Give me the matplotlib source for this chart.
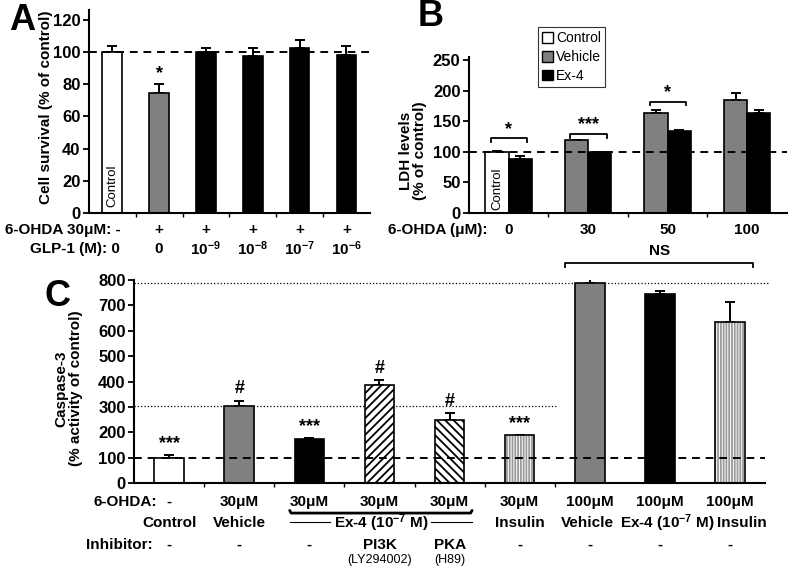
import matplotlib
matplotlib.use('Agg')
import matplotlib.pyplot as plt
from matplotlib.patches import Patch
import matplotlib.transforms as mtrans

plt.rcParams['font.family'] = ['Liberation Sans', 'DejaVu Sans']
plt.rcParams['font.weight'] = 'bold'
plt.rcParams['axes.labelweight'] = 'bold'
plt.rcParams['mathtext.fontset'] = 'custom'
plt.rcParams['mathtext.rm'] = 'Liberation Sans'
plt.rcParams['mathtext.bf'] = 'Liberation Sans:bold'
plt.rcParams['mathtext.default'] = 'bf'
plt.rcParams['hatch.linewidth'] = 1.3

# ---- data ----
# panel A: cell survival
a_ohda = ['-', '+', '+', '+', '+', '+']
a_glp = ['0', '0', '$10^{-9}$', '$10^{-8}$', '$10^{-7}$', '$10^{-6}$']
a_vals = [100, 74.5, 100, 97.5, 102.4, 98.3]
a_err = [3.6, 5.6, 2.5, 4.8, 5.2, 5.5]
a_colors = ['white', '#808080', 'black', 'black', 'black', 'black']
a_marks = ['', '*', '', '', '', '']

# panel B: LDH levels
b_doses = ['0', '30', '50', '100']
b_first = [100, 119, 163, 185]       # control (0) / vehicle
b_first_err = [2, 1, 6, 11]
b_ex4 = [89, 99, 134, 163]
b_ex4_err = [4, 1, 2, 5]
b_sig = {0: ('*', 122), 1: ('***', 129), 2: ('*', 182)}

# panel C: caspase-3
c_ohda = ['-', '30\u03bcM', '30\u03bcM', '30\u03bcM', '30\u03bcM', '30\u03bcM',
          '100\u03bcM', '100\u03bcM', '100\u03bcM']
c_treat = ['Control', 'Vehicle', '', '', '', 'Insulin', 'Vehicle',
           'Ex-4 (10$^{-7}$ M)', 'Insulin']
c_inhib = ['-', '-', '-', 'PI3K', 'PKA', '-', '-', '-', '-']
c_inhib_sub = ['', '', '', '(LY294002)', '(H89)', '', '', '', '']
c_vals = [100, 303, 172, 388, 250, 188, 790, 745, 634]
c_err = [10, 22, 5, 18, 27, 2, 58, 12, 79]
c_marks = ['***', '#', '***', '#', '#', '***', '', '', '']

FS = 11      # row label size
TS = 12      # tick label size
LS = 11      # axis label size

fig = plt.figure(figsize=(8, 5.7), dpi=100)

def one_sided(ax, x, vals, errs):
    ax.errorbar(x, vals, yerr=[[0] * len(vals), errs], fmt='none',
                ecolor='black', elinewidth=1.4, capsize=3.5, capthick=1.4, zorder=1)

def style(ax):
    for s in ['top', 'right']:
        ax.spines[s].set_visible(False)
    for s in ['left', 'bottom']:
        ax.spines[s].set_linewidth(1.5)
    ax.tick_params(axis='y', labelsize=TS, width=1.3, length=4, pad=2)
    ax.tick_params(axis='x', width=1.0, length=3, labelbottom=False)
    for t in ax.get_yticklabels():
        t.set_fontweight('bold')

# ---- A ----
axA = fig.add_axes([0.111, 0.6263, 0.3514, 0.3562])
xa = list(range(len(a_vals)))
axA.bar(xa, a_vals, width=0.42, color=a_colors, edgecolor='black', linewidth=1.2, zorder=2)
one_sided(axA, xa, a_vals, a_err)
axA.axhline(100, color='black', ls=(0, (4, 3)), lw=1.4, zorder=3)
for i, m in enumerate(a_marks):
    if m:
        axA.text(i, a_vals[i] + a_err[i] + 1, m, ha='center', va='bottom', fontsize=13)
axA.text(0, 4, 'Control', rotation=90, ha='center', va='bottom', fontsize=9.5,
         fontweight='normal')
axA.set_xlim(-0.5, 5.5)
axA.set_ylim(0, 126)
axA.set_yticks(range(0, 121, 20))
axA.set_xticks([i + 0.5 for i in range(5)])
style(axA)
axA.set_ylabel('Cell survival (% of control)', fontsize=LS)
axA.yaxis.set_label_coords(-0.128, 0.52)
trA = mtrans.blended_transform_factory(axA.transData, axA.transAxes)
axA.text(0.17, -0.085, '6-OHDA 30\u03bcM: ' + a_ohda[0], transform=trA, ha='right', va='center', fontsize=FS)
axA.text(0.17, -0.178, 'GLP-1 (M): ' + a_glp[0], transform=trA, ha='right', va='center', fontsize=FS)
for i in range(1, len(a_vals)):
    axA.text(i, -0.085, a_ohda[i], transform=trA, ha='center', va='center', fontsize=FS)
    axA.text(i, -0.178, a_glp[i], transform=trA, ha='center', va='center', fontsize=FS)

# ---- B ----
axB = fig.add_axes([0.586, 0.6263, 0.3975, 0.2737])
xb = list(range(len(b_doses)))
w = 0.29
first_cols = ['white', '#808080', '#808080', '#808080']
axB.bar([x - w / 2 for x in xb], b_first, width=w, color=first_cols, edgecolor='black',
        linewidth=1.2, zorder=2)
axB.bar([x + w / 2 for x in xb], b_ex4, width=w, color='black', edgecolor='black',
        linewidth=1.2, zorder=2)
one_sided(axB, [x - w / 2 for x in xb], b_first, b_first_err)
one_sided(axB, [x + w / 2 for x in xb], b_ex4, b_ex4_err)
axB.axhline(100, color='black', ls=(0, (4, 3)), lw=1.4, zorder=3)
axB.text(-w / 2, 5, 'Control', rotation=90, ha='center', va='bottom', fontsize=9.5,
         fontweight='normal')
for g, (lab, yv) in b_sig.items():
    axB.plot([g - 0.225, g - 0.225, g + 0.235, g + 0.235], [yv - 6, yv, yv, yv - 6],
             color='black', lw=1.3)
    axB.text(g, yv + 1, lab, ha='center', va='bottom', fontsize=13)
axB.set_xlim(-0.5, 3.5)
axB.set_ylim(0, 255)
axB.set_yticks(range(0, 251, 50))
axB.set_xticks([0.5, 1.5, 2.5])
style(axB)
axB.set_ylabel('LDH levels\n(% of control)', fontsize=LS, linespacing=1.0)
axB.yaxis.set_label_coords(-0.13, 0.40)
trB = mtrans.blended_transform_factory(axB.transData, axB.transAxes)
axB.text(-0.26, -0.11, '6-OHDA (\u03bcM):', transform=trB, ha='right', va='center', fontsize=FS)
for i, d in enumerate(b_doses):
    axB.text(i, -0.11, d, transform=trB, ha='center', va='center', fontsize=FS)
handles = [Patch(facecolor='white', edgecolor='black'),
           Patch(facecolor='#808080', edgecolor='black'),
           Patch(facecolor='black', edgecolor='black')]
leg = fig.legend(handles, ['Control', 'Vehicle', 'Ex-4'], loc='upper left',
                 bbox_to_anchor=(0.6725, 0.9526), frameon=True, fancybox=False,
                 edgecolor='black', handlelength=0.8, handleheight=0.8, handletextpad=0.2,
                 borderpad=0.3, labelspacing=0.35, borderaxespad=0,
                 prop={'size': 10, 'weight': 'normal'})
leg.get_frame().set_linewidth(0.8)

# ---- C ----
axC = fig.add_axes([0.1675, 0.1526, 0.789, 0.3562])
xc = list(range(len(c_vals)))
cw = 0.42
c_face = ['white', '#808080', 'black', 'white', 'white', 'white', '#808080', 'black', 'white']
c_hatch = [None, None, None, '////', '\\\\\\\\', None, None, None, None]
for i in xc:
    if c_treat[i] == 'Insulin':
        axC.bar(i, c_vals[i], width=cw, color='white', edgecolor='#9a9a9a',
                hatch='||||||', linewidth=0, zorder=2)
        axC.bar(i, c_vals[i], width=cw, fill=False, edgecolor='black', linewidth=1.2, zorder=2)
    else:
        axC.bar(i, c_vals[i], width=cw, color=c_face[i], edgecolor='black',
                hatch=c_hatch[i], linewidth=1.2, zorder=2)
one_sided(axC, xc, c_vals, c_err)
axC.axhline(100, color='black', ls=(0, (4, 3)), lw=1.4, zorder=3)
axC.plot([-0.5, 5.55], [c_vals[1], c_vals[1]], color='black', ls=':', lw=0.9, zorder=1)
axC.plot([-0.5, 8.57], [c_vals[6], c_vals[6]], color='black', ls=':', lw=0.9, zorder=1,
         clip_on=False)
for i, m in enumerate(c_marks):
    if m:
        axC.text(i, c_vals[i] + c_err[i] + 12, m, ha='center', va='bottom', fontsize=13)
# NS bracket
axC.plot([5.65, 5.65, 8.32, 8.32], [850, 866, 866, 850], color='black', lw=1.3, clip_on=False)
axC.text(6.99, 885, 'NS', ha='center', va='bottom', fontsize=FS)
axC.set_xlim(-0.5, 8.5)
axC.set_ylim(0, 800)
axC.set_yticks(range(0, 801, 100))
axC.set_xticks([i + 0.5 for i in range(6)])
style(axC)
axC.set_ylabel('Caspase-3\n(% activity of control)', fontsize=LS, linespacing=1.0)
axC.yaxis.set_label_coords(-0.081, 0.465)
trC = mtrans.blended_transform_factory(axC.transData, axC.transAxes)
axC.text(-0.17, -0.094, '6-OHDA:', transform=trC, ha='right', va='center', fontsize=FS)
axC.text(-0.23, -0.305, 'Inhibitor:', transform=trC, ha='right', va='center', fontsize=FS)
treat_dx = [0, 0, 0, 0, 0, 0, -0.04, 0.11, 0.17]
for i in xc:
    axC.text(i, -0.094, c_ohda[i], transform=trC, ha='center', va='center', fontsize=FS)
    axC.text(i + treat_dx[i], -0.197, c_treat[i], transform=trC, ha='center', va='center',
             fontsize=FS)
    axC.text(i, -0.305, c_inhib[i], transform=trC, ha='center', va='center', fontsize=FS)
    if c_inhib_sub[i]:
        axC.text(i, -0.38, c_inhib_sub[i], transform=trC, ha='center', va='center',
                 fontsize=9, fontweight='normal')
# Ex-4 grouping bracket under the three 30 uM Ex-4 bars
axC.plot([1.72, 1.74, 4.3, 4.32], [-0.135, -0.148, -0.148, -0.135], transform=trC,
         color='black', lw=2, clip_on=False, solid_capstyle='round')
axC.plot([1.73, 2.3], [-0.19, -0.19], transform=trC, color='black', lw=0.8, clip_on=False)
axC.plot([3.74, 4.32], [-0.19, -0.19], transform=trC, color='black', lw=0.8, clip_on=False)
axC.text(3.02, -0.197, 'Ex-4 (10$^{-7}$ M)', transform=trC, ha='center', va='center', fontsize=FS)

# panel letters
fig.text(22 / 800, 1 - 21 / 570, 'A', fontsize=26, ha='center', va='center')
fig.text(431 / 800, 1 - 16 / 570, 'B', fontsize=26, ha='center', va='center')
fig.text(58 / 800, 1 - 297 / 570, 'C', fontsize=26, ha='center', va='center')

fig.savefig('out.png', dpi=100)
